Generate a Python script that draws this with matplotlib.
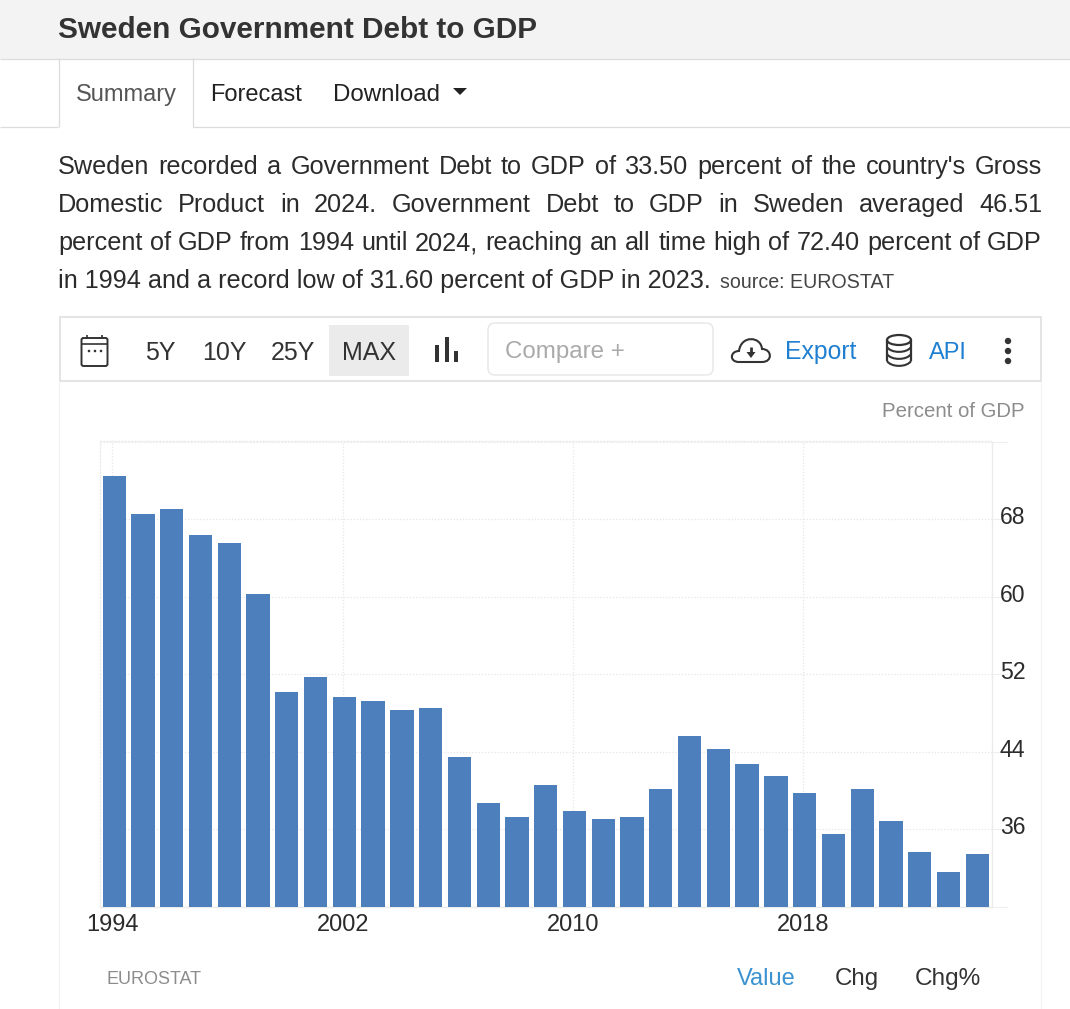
import matplotlib
matplotlib.use("Agg")
import matplotlib.pyplot as plt
from matplotlib.patches import Rectangle, FancyBboxPatch, Polygon, Circle, Ellipse, PathPatch
from matplotlib.path import Path
from matplotlib.transforms import ScaledTranslation

plt.rcParams['font.family'] = ['Liberation Sans', 'DejaVu Sans']

# Values
years = list(range(1994, 2025))
debt = [72.4, 68.5, 69.0, 66.4, 65.5, 60.3, 50.2, 51.7, 49.7, 49.2, 48.3, 48.5, 43.5,
        38.7, 37.3, 40.6, 37.9, 37.1, 37.3, 40.2, 45.6, 44.3, 42.7, 41.5, 39.8, 35.5,
        40.2, 36.9, 33.7, 31.6, 33.5]
x_tick_years = [1994, 2002, 2010, 2018]
y_ticks = [28, 36, 44, 52, 60, 68, 76]
y_tick_labels = ['', '36', '44', '52', '60', '68', '']

title = "Sweden Government Debt to GDP"
body_lines = [
    "Sweden recorded a Government Debt to GDP of 33.50 percent of the country's Gross",
    "Domestic Product in 2024. Government Debt to GDP in Sweden averaged 46.51",
    "percent of GDP from 1994 until 2024, reaching an all time high of 72.40 percent of GDP",
]
body_last = "in 1994 and a record low of 31.60 percent of GDP in 2023."

W, H = 1070, 1009
fig = plt.figure(figsize=(W / 100, H / 100), dpi=100, facecolor='white')

# Overlay in pixel coordinates for the page around the chart
page = fig.add_axes([0, 0, 1, 1])
page.set_xlim(0, W)
page.set_ylim(H, 0)
page.axis('off')

TEXT = '#2b2b2b'
LINE = '#dcdcdc'
BLUE = '#1f7fd1'
ICON = '#333333'


def label(x, y, s, size=17, color=TEXT, ha='left', **kw):
    return page.text(x, y, s, fontsize=size, color=color, ha=ha, va='baseline', **kw)


def hline(y, x0, x1, color=LINE, lw=0.9):
    page.plot([x0, x1], [y, y], color=color, lw=lw, solid_capstyle='butt')


def vline(x, y0, y1, color=LINE, lw=0.9):
    page.plot([x, x], [y0, y1], color=color, lw=lw, solid_capstyle='butt')


def justified(y, s, x0, x1, size):
    # spread the words out across the column like the page does
    words = s.split(' ')
    renderer = fig.canvas.get_renderer()
    items = [label(x0, y, w, size=size) for w in words]
    widths = [t.get_window_extent(renderer).width for t in items]
    gap = (x1 - x0 - sum(widths)) / (len(words) - 1)
    x = x0
    for t, w in zip(items, widths):
        t.set_x(x)
        x += w + gap


# header and tabs
page.add_patch(Rectangle((0, 0), W, 58.5, fc='#f3f3f3', ec='none'))
hline(58.5, 0, W)
hline(126.5, 0, 58)
hline(126.5, 193, W)
vline(58.5, 58, 127)
vline(193, 58, 127)
label(58, 38, title, size=21.45, color='#333333', fontweight='bold')
label(76, 101, "Summary", color='#555555')
label(210, 101, "Forecast", color='#222222')
label(333, 101, "Download", size=17.4, color='#222222')
page.add_patch(Polygon([(453, 88), (467, 88), (460, 95)], fc='#222222', ec='none'))

# paragraph
for i, line in enumerate(body_lines):
    justified(174 + 38 * i, line, 58, 1042, 18.2)
label(58, 288, body_last, size=18.2)
label(720, 288, "source: EUROSTAT", size=14.1, color='#444444')

# chart panel and toolbar
vline(59, 381, H, color='#f2f2f2')
vline(1041, 381, H, color='#f2f2f2')
page.add_patch(Rectangle((60, 317), 981, 64, fc='white', ec=LINE, lw=1.1))
page.add_patch(Rectangle((329, 325), 80, 51, fc='#ebebeb', ec='none'))
for tx, ts in [(145, "5Y"), (202, "10Y"), (271, "25Y"), (342, "MAX")]:
    label(tx, 360, ts, size=18, color='#333333')
page.add_patch(FancyBboxPatch((491, 326), 219, 46, boxstyle="round,pad=3,rounding_size=7",
                              fc='white', ec='#e6e6e6', lw=1))
label(505, 358, "Compare +", size=17.4, color='#aaaaaa')
label(785, 359, "Export", size=17.8, color=BLUE)
label(929, 359, "API", color=BLUE)

# calendar icon
page.add_patch(FancyBboxPatch((81.5, 338), 26, 28, boxstyle="round,pad=0,rounding_size=2",
                              fc='none', ec=ICON, lw=1.4))
hline(344, 81.5, 107.5, color=ICON, lw=1.2)
vline(87, 335, 339, color=ICON, lw=1.2)
vline(102, 335, 339, color=ICON, lw=1.2)
for cx in (89, 95, 101):
    page.add_patch(Circle((cx, 351), 1.3, fc=ICON, ec='none'))

# bar chart icon
for bx, top in [(437, 345), (447, 337), (456, 351)]:
    page.add_patch(Rectangle((bx - 1.7, top), 3.4, 362 - top, fc=ICON, ec='none'))

# cloud icon
cloud = Path([(739, 362), (729, 362), (730, 351), (739, 351), (741, 335), (761, 336), (762, 349),
              (772, 349), (773, 362), (762, 362), (739, 362)],
             [Path.MOVETO, Path.CURVE4, Path.CURVE4, Path.CURVE4, Path.CURVE4, Path.CURVE4, Path.CURVE4,
              Path.CURVE4, Path.CURVE4, Path.CURVE4, Path.LINETO])
page.add_patch(PathPatch(cloud, fc='none', ec=ICON, lw=1.5))
vline(751, 347, 353, color=ICON, lw=2)
page.add_patch(Polygon([(746.5, 352), (755.5, 352), (751, 358)], fc=ICON, ec='none'))

# database icon
vline(887, 340, 361, color=ICON, lw=1.6)
vline(911, 340, 361, color=ICON, lw=1.6)
page.add_patch(Ellipse((899, 340), 24, 10, fc='none', ec=ICON, lw=1.6))
for ey in (347, 354, 361):
    band = Path([(887, ey), (891, ey + 6.5), (907, ey + 6.5), (911, ey)],
                [Path.MOVETO, Path.CURVE4, Path.CURVE4, Path.CURVE4])
    page.add_patch(PathPatch(band, fc='none', ec=ICON, lw=1.5))

# menu dots
for dy in (341, 351, 361):
    page.add_patch(Circle((1008, dy), 3.2, fc=ICON, ec='none'))

label(1025, 417, "Percent of GDP", size=14.7, color='#8c8c8c', ha='right')
label(107, 984, "EUROSTAT", size=13, color='#8c8c8c')
label(737, 985, "Value", color='#3a93d0')
label(835, 985, "Chg", size=17.4, color='#333333')
label(915, 985, "Chg%", size=17.6, color='#333333')

# the chart itself
left, right, top, bottom = 99.8, 991.7, 441.5, 907
ax = fig.add_axes([left / W, 1 - bottom / H, (right - left) / W, (bottom - top) / H])
ax.patch.set_alpha(0)
ax.bar(years, debt, width=0.81, color='#4d7fbd', zorder=3)
ax.set_xlim(years[0] - 0.5, years[-1] + 0.5)
ax.set_ylim(y_ticks[0], y_ticks[-1])

ax.set_xticks([y - 0.06 for y in x_tick_years])
ax.set_xticklabels([str(y) for y in x_tick_years])
ax.set_yticks(y_ticks)
ax.set_yticklabels(y_tick_labels)
ax.yaxis.tick_right()
ax.tick_params(axis='x', length=0, pad=5, labelsize=17, labelcolor=TEXT)
ax.tick_params(axis='y', length=11.5, width=0.8, color='#efefef', pad=-5.8, labelsize=16.6, labelcolor=TEXT)
ax.grid(True, color='#e6e6e6', lw=0.9, ls=(0, (1, 1.5)), zorder=0)

for name, spine in ax.spines.items():
    spine.set_color('#ececec')
    spine.set_linewidth(1)
ax.spines['top'].set_linestyle((0, (1, 1.5)))
ax.spines['left'].set_linestyle((0, (1, 1.5)))

nudge = ScaledTranslation(0, 4 / 100, fig.dpi_scale_trans)
for lbl in ax.get_yticklabels():
    lbl.set_transform(lbl.get_transform() + nudge)

fig.savefig("out.png", dpi=100)
